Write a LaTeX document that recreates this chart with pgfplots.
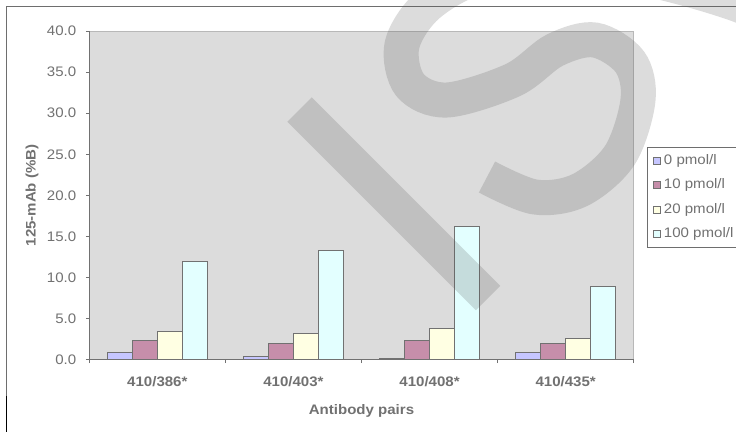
\documentclass[border=0pt]{standalone}
\usepackage{fontspec}
\setmainfont{Liberation Sans}[FakeStretch=1.09]
\usepackage{pgfplots}
\pgfplotsset{compat=1.18}
\definecolor{txt}{RGB}{113,113,113}
\definecolor{plotbg}{RGB}{220,220,220}
\definecolor{plotborder}{RGB}{184,184,184}
\definecolor{sA}{RGB}{198,198,255}
\definecolor{sB}{RGB}{198,142,170}
\definecolor{sC}{RGB}{255,255,227}
\definecolor{sD}{RGB}{227,255,255}
\definecolor{wmcol}{RGB}{80,80,80}
\definecolor{framecol}{RGB}{110,110,110}
\pgfplotsset{sqlegend/.style={legend image code/.code={\draw[##1,line width=0.6pt] (0pt,-3.5pt) rectangle (7pt,3.5pt);}}}
\newcommand{\fs}{\fontsize{13.8}{16}\selectfont}
\begin{document}
\begin{tikzpicture}
\path[use as bounding box] (0pt,0pt) rectangle (736pt,-432pt);
\begin{scope}[x=1pt,y=-1pt]
\draw[framecol, line width=1pt] (6,6.7) -- (736,6.7);
\draw[framecol, line width=1pt] (6.3,6.7) -- (6.3,396);
\draw[black, line width=1.2pt] (6.3,396) -- (6.3,432);
\end{scope}
\begin{axis}[
  at={(89.3pt,-359.7pt)}, anchor=south west,
  scale only axis, width=544.4pt, height=328.7pt,
  xmin=0.5, xmax=4.5, ymin=0, ymax=40,
  ybar=0pt, bar width=25pt,
  axis lines=left,
  axis line style={-, draw=txt, line width=0.8pt},
  axis background/.style={fill=plotbg, draw=plotborder, line width=0.8pt},
  ytick={0,5,...,40},
  yticklabel style={/pgf/number format/fixed, /pgf/number format/fixed zerofill, /pgf/number format/precision=1, font=\fs, text=txt, xshift=-6pt},
  /pgf/number format/assume math mode=true,
  xtick={0.5,1.5,2.5,3.5,4.5}, xticklabels={},
  extra x ticks={1,2,3,4},
  extra x tick labels={410/386*,410/403*,410/408*,410/435*},
  extra x tick style={major tick length=0pt, tick label style={font=\bfseries\fs, text=txt, yshift=-13pt}},
  tick align=outside, major tick length=3.5pt,
  tick style={draw=txt, line width=0.8pt},
  xlabel={Antibody pairs}, ylabel={125-mAb (\%B)},
  label style={font=\bfseries\fs, text=txt},
  xlabel style={at={(axis description cs:0.5,-0.155)}, anchor=center},
  ylabel style={at={(axis description cs:-0.1053,0.5)}, anchor=center},
  legend style={at={(1.0244,0.647)}, anchor=north west, draw=framecol, fill=white,
    line width=0.8pt, font=\fs, text=txt, row sep=8pt, inner xsep=6pt, inner ysep=5pt,
    nodes={inner sep=1.5pt, text height=10.5pt, text depth=3pt},
    /tikz/every odd column/.append style={column sep=1.5pt}},
  legend cell align=left,
]
\addplot[fill=sA, draw=txt, line width=0.8pt, sqlegend] coordinates {(1,0.85) (2,0.4) (3,0.15) (4,0.85)};
\addplot[fill=sB, draw=txt, line width=0.8pt, sqlegend] coordinates {(1,2.3) (2,1.95) (3,2.3) (4,2.0)};
\addplot[fill=sC, draw=txt, line width=0.8pt, sqlegend] coordinates {(1,3.4) (2,3.25) (3,3.8) (4,2.55)};
\addplot[fill=sD, draw=txt, line width=0.8pt, sqlegend] coordinates {(1,12.0) (2,13.35) (3,16.2) (4,8.9)};
\legend{0 pmol/l, 10 pmol/l, 20 pmol/l, 100 pmol/l}
\end{axis}
\begin{scope}[x=1pt,y=-1pt]
\draw[wmcol, draw opacity=0.2, line width=34.5pt] (299.5,109.5) -- (488,298);
\draw[wmcol, draw opacity=0.2, line width=35pt] plot[smooth, tension=0.55] coordinates {(790,28) (736,4) (660,-18) (570,-35) (482,-24) (428,5) (402,45) (410,85) (447,100) (513,80) (555,50) (595,40) (630,62) (638,100) (620,155) (580,190) (535,197) (487,177)};
\end{scope}
\end{tikzpicture}
\end{document}
